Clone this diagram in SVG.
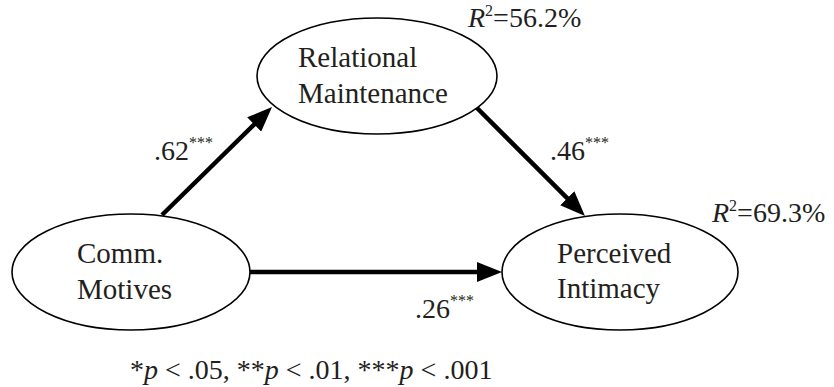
<svg xmlns="http://www.w3.org/2000/svg" width="834" height="387" viewBox="0 0 834 387">
<style>
  text { font-family: 'Liberation Serif', 'Times New Roman', serif; fill: #231f20; }
  .node { fill: #ffffff; stroke: #000000; stroke-width: 1.6; }
  .lbl { font-size: 29px; }
  .coef { font-size: 28px; }
  .sup { font-size: 16px; }
  .conn { stroke: #000000; stroke-width: 4.5; fill: none; }
</style>
<defs>
  <marker id="arrow" markerUnits="userSpaceOnUse" markerWidth="26" markerHeight="20" refX="2" refY="10" orient="auto">
    <path d="M0,0 L25,10 L0,20 z" fill="#000000"/>
  </marker>
</defs>
<rect width="834" height="387" fill="#ffffff"/>
<g id="connectors">
  <line class="conn" x1="162" y1="215" x2="255.6" y2="123.1" marker-end="url(#arrow)"/>
  <line class="conn" x1="476" y1="107" x2="568.7" y2="199.7" marker-end="url(#arrow)"/>
  <line class="conn" x1="249" y1="272" x2="479" y2="272" marker-end="url(#arrow)"/>
  <text class="coef" x="154" y="160">.62<tspan class="sup" dy="-12">***</tspan></text>
  <text class="coef" x="550" y="160">.46<tspan class="sup" dy="-12">***</tspan></text>
  <text class="coef" x="415" y="318">.26<tspan class="sup" dy="-12">***</tspan></text>
</g>
<g id="relational-maintenance">
  <ellipse class="node" cx="377" cy="76" rx="120" ry="58"/>
  <text class="lbl" x="298" y="67">Relational</text>
  <text class="lbl" x="298" y="103">Maintenance</text>
  <text class="coef" x="468" y="27"><tspan font-style="italic">R</tspan><tspan class="sup" dy="-11">2</tspan><tspan dy="11">=56.2%</tspan></text>
</g>
<g id="comm-motives">
  <ellipse class="node" cx="131" cy="272" rx="119" ry="58"/>
  <text class="lbl" x="77" y="263">Comm.</text>
  <text class="lbl" x="77" y="299">Motives</text>
</g>
<g id="perceived-intimacy">
  <ellipse class="node" cx="620" cy="272" rx="118" ry="58"/>
  <text class="lbl" x="557" y="263">Perceived</text>
  <text class="lbl" x="557" y="298">Intimacy</text>
  <text class="coef" x="712" y="222"><tspan font-style="italic">R</tspan><tspan class="sup" dy="-11">2</tspan><tspan dy="11">=69.3%</tspan></text>
</g>
<g id="footnote">
  <text class="coef" x="130" y="379">*<tspan font-style="italic">p</tspan> &lt; .05, **<tspan font-style="italic">p</tspan> &lt; .01, ***<tspan font-style="italic">p</tspan> &lt; .001</text>
</g>
</svg>
